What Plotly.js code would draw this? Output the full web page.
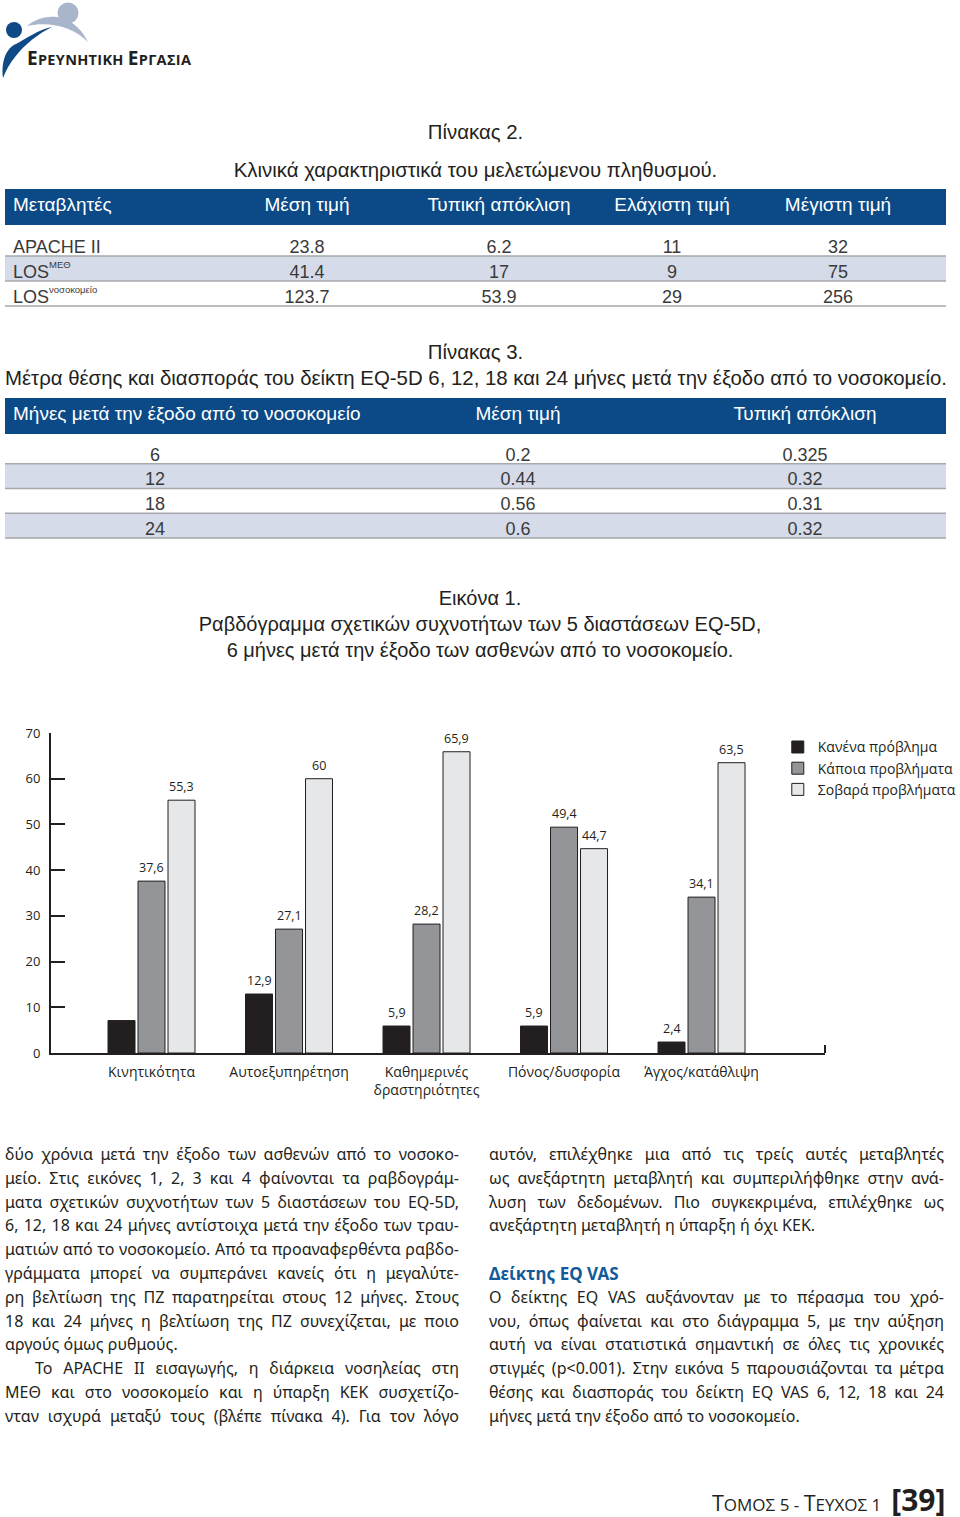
<!DOCTYPE html>
<html>
<head>
<meta charset="utf-8">
<script src="https://cdn.plot.ly/plotly-3.0.1.min.js"></script>
<style>
  body{margin:0;width:960px;height:1517px;position:relative;background:#fff;font-family:"Liberation Sans",Arial,sans-serif;color:#231f20;overflow:hidden}
  .ttl{position:absolute;left:5px;width:941px;text-align:center;font-size:20.4px;white-space:nowrap;line-height:24px}
  .col{position:absolute;font-family:"Noto Sans",sans-serif;font-size:16px;line-height:23.8px;top:1143px}
  .ln{white-space:nowrap;height:23.8px}
  .plt{position:absolute;left:0}
</style>
</head>
<body>
<!-- logo -->
<svg width="200" height="80" style="position:absolute;left:0;top:0">
  <circle cx="68" cy="13" r="10.5" fill="#a8b5cb"/>
  <path d="M27,26 C42,13 72,10 88,42 C73,27 50,21 27,26Z" fill="#a8b5cb"/>
  <circle cx="14" cy="30" r="8" fill="#0d4a86"/>
  <path d="M3,78 C1,62 6,48 16,44 C27,38 38,30 52,27 C38,34 25,44 15,57 C10,63 6,70 3,78Z" fill="#0d4a86"/>
</svg>
<div style="position:absolute;left:27px;top:45px;font-family:'Open Sans',sans-serif;font-weight:bold;color:#231f20;white-space:nowrap;letter-spacing:0.3px">
  <span style="font-size:19px">Ε</span><span style="font-size:14.5px">ΡΕΥΝΗΤΙΚΗ </span><span style="font-size:19px">Ε</span><span style="font-size:14.5px">ΡΓΑΣΙΑ</span>
</div>

<div class="ttl" style="top:120px">Πίνακας 2.</div>
<div class="ttl" style="top:158px">Κλινικά χαρακτηριστικά του μελετώμενου πληθυσμού.</div>
<div id="table2h" class="plt" style="top:185px;width:960px;height:45px"></div>
<div id="table2b" class="plt" style="top:215px;width:960px;height:100px"></div>
<div id="table2s" class="plt" style="top:212px;width:960px;height:100px"></div>

<div class="ttl" style="top:340px">Πίνακας 3.</div>
<div class="ttl" style="top:366px">Μέτρα θέσης και διασποράς του δείκτη EQ-5D 6, 12, 18 και 24 μήνες μετά την έξοδο από το νοσοκομείο.</div>
<div id="table3h" class="plt" style="top:395px;width:960px;height:45px"></div>
<div id="table3b" class="plt" style="top:423px;width:960px;height:125px"></div>

<div id="chart" class="plt" style="top:580px;width:960px;height:530px"></div>

<div class="col" style="left:5px;width:454px">
  <div class="ln j"><span>δύο χρόνια μετά την έξοδο των ασθενών από το νοσοκο-</span></div>
  <div class="ln j"><span>μείο. Στις εικόνες 1, 2, 3 και 4 φαίνονται τα ραβδογράμ-</span></div>
  <div class="ln j"><span>ματα σχετικών συχνοτήτων των 5 διαστάσεων του EQ-5D,</span></div>
  <div class="ln j"><span>6, 12, 18 και 24 μήνες αντίστοιχα μετά την έξοδο των τραυ-</span></div>
  <div class="ln j"><span>ματιών από το νοσοκομείο. Από τα προαναφερθέντα ραβδο-</span></div>
  <div class="ln j"><span>γράμματα μπορεί να συμπεράνει κανείς ότι η μεγαλύτε-</span></div>
  <div class="ln j"><span>ρη βελτίωση της ΠΖ παρατηρείται στους 12 μήνες. Στους</span></div>
  <div class="ln j"><span>18 και 24 μήνες η βελτίωση της ΠΖ συνεχίζεται, με ποιο</span></div>
  <div class="ln"><span>αργούς όμως ρυθμούς.</span></div>
  <div class="ln j" style="padding-left:30px"><span>Το APACHE II εισαγωγής, η διάρκεια νοσηλείας στη</span></div>
  <div class="ln j"><span>ΜΕΘ και στο νοσοκομείο και η ύπαρξη ΚΕΚ συσχετίζο-</span></div>
  <div class="ln j"><span>νταν ισχυρά μεταξύ τους (βλέπε πίνακα 4). Για τον λόγο</span></div>
</div>
<div class="col" style="left:489px;width:455px">
  <div class="ln j"><span>αυτόν, επιλέχθηκε μια από τις τρείς αυτές μεταβλητές</span></div>
  <div class="ln j"><span>ως ανεξάρτητη μεταβλητή και συμπεριλήφθηκε στην ανά-</span></div>
  <div class="ln j"><span>λυση των δεδομένων. Πιο συγκεκριμένα, επιλέχθηκε ως</span></div>
  <div class="ln"><span>ανεξάρτητη μεταβλητή η ύπαρξη ή όχι ΚΕΚ.</span></div>
  <div class="ln"></div>
  <div class="ln" style="font-weight:bold;color:#135a9a;font-size:17px"><span>Δείκτης EQ VAS</span></div>
  <div class="ln j"><span>Ο δείκτης EQ VAS αυξάνονταν με το πέρασμα του χρό-</span></div>
  <div class="ln j"><span>νου, όπως φαίνεται και στο διάγραμμα 5, με την αύξηση</span></div>
  <div class="ln j"><span>αυτή να είναι στατιστικά σημαντική σε όλες τις χρονικές</span></div>
  <div class="ln j"><span>στιγμές (p&lt;0.001). Στην εικόνα 5 παρουσιάζονται τα μέτρα</span></div>
  <div class="ln j"><span>θέσης και διασποράς του δείκτη EQ VAS 6, 12, 18 και 24</span></div>
  <div class="ln"><span>μήνες μετά την έξοδο από το νοσοκομείο.</span></div>
</div>

<div style="position:absolute;left:712px;top:1479px;font-family:'Open Sans',sans-serif;color:#231f20;white-space:nowrap">
  <span style="font-size:21.5px">Τ</span><span style="font-size:17px">ΟΜΟΣ 5 - </span><span style="font-size:21.5px">Τ</span><span style="font-size:17px">ΕΥΧΟΣ 1</span><span style="font-size:30px;font-weight:bold;margin-left:10px">[39]</span>
</div>

<script>
// ---------- Table 2 data ----------
const t2Headers = ['Μεταβλητές', 'Μέση τιμή', 'Τυπική απόκλιση', 'Ελάχιστη τιμή', 'Μέγιστη τιμή'];
const t2Variables = ['APACHE II', 'LOS', 'LOS'];
const t2VariableSup = ['', 'ΜΕΘ', 'νοσοκομείο'];
const t2Mean = [23.8, 41.4, 123.7];
const t2SD = [6.2, 17, 53.9];
const t2Min = [11, 9, 29];
const t2Max = [32, 75, 256];

// ---------- Table 3 data ----------
const t3Headers = ['Μήνες μετά την έξοδο από το νοσοκομείο', 'Μέση τιμή', 'Τυπική απόκλιση'];
const t3Months = [6, 12, 18, 24];
const t3Mean = [0.2, 0.44, 0.56, 0.6];
const t3SD = [0.325, 0.32, 0.31, 0.32];

// ---------- Figure 1 data ----------
const dimensions = ['Κινητικότητα', 'Αυτοεξυπηρέτηση', 'Καθημερινές<br>δραστηριότητες', 'Πόνος/δυσφορία', 'Άγχος/κατάθλιψη'];
const seriesNames = ['Κανένα πρόβλημα', 'Κάποια προβλήματα', 'Σοβαρά προβλήματα'];
const noProblems = [7.1, 12.9, 5.9, 5.9, 2.4];
const someProblems = [37.6, 27.1, 28.2, 49.4, 34.1];
const severeProblems = [55.3, 60, 65.9, 44.7, 63.5];
const noProblemsLabels = ['', '12,9', '5,9', '5,9', '2,4'];

// ---------- styling ----------
const INK = '#231f20';
const BLUE = '#0b4a86';
const ROWBLUE = '#d5dbe8';
const RULE = '#a7a9ac';
const TFONT = 'Liberation Sans, Arial, sans-serif';
const CFONT = 'Open Sans, sans-serif';
const cfg = {staticPlot: true, displayModeBar: false};
const str = a => a.map(v => String(v));
const rowFill = n => Array.from({length: n}, (_, i) => i % 2 ? ROWBLUE : '#ffffff');
const spacer = n => Array.from({length: n}, () => '');
const EMPTY_HDR = 16;
const L = 5, R = 946, W = 960;
const DX = [L / W, R / W];
const noMargin = {l: 0, r: 0, t: 0, b: 0};
const clearHeader = {values: [], fill: {color: 'rgba(0,0,0,0)'}, line: {width: 0, color: 'rgba(0,0,0,0)'}};

function tableHeader(id, H, top, vals, widths, align) {
  Plotly.newPlot(id, [{
    type: 'table',
    domain: {x: DX, y: [0, 1 - top / H]},
    columnwidth: widths,
    header: {values: vals, align: align, height: 36,
      fill: {color: BLUE}, line: {width: 0, color: BLUE},
      font: {family: TFONT, size: 19, color: '#ffffff'}},
    cells: {values: []}
  }], {width: W, height: H, margin: noMargin, paper_bgcolor: 'rgba(0,0,0,0)'}, cfg);
}

function tableBody(id, H, top, vals, widths, align, rowH, nRows) {
  const fills = rowFill(nRows);
  const shapes = [];
  for (let r = 0; r < nRows; r++) {
    const yp = 1 - (top + EMPTY_HDR + (r + 1) * rowH) / H;
    shapes.push({type: 'line', xref: 'paper', yref: 'paper', x0: DX[0], x1: DX[1], y0: yp, y1: yp,
      line: {color: RULE, width: 1.5}});
  }
  Plotly.newPlot(id, [{
    type: 'table',
    domain: {x: DX, y: [0, 1 - top / H]},
    columnwidth: widths,
    header: clearHeader,
    cells: {values: vals, align: align, height: rowH,
      fill: {color: vals.map(() => fills)},
      line: {width: 0, color: 'rgba(0,0,0,0)'},
      font: {family: TFONT, size: 18, color: '#3a3a3a'}}
  }], {width: W, height: H, margin: noMargin, paper_bgcolor: 'rgba(0,0,0,0)', shapes: shapes}, cfg);
}

// Table 2
tableHeader('table2h', 45, 4, t2Headers.concat(['']), [210, 184, 200, 146, 186, 15],
  ['left', 'center', 'center', 'center', 'center', 'center']);
tableBody('table2b', 100, 0, [t2Variables, str(t2Mean), str(t2SD), str(t2Min), str(t2Max)],
  [225, 154, 230, 116, 216], ['left', 'center', 'center', 'center', 'center'], 25, t2Variables.length);
// superscripts of the first column (small, raised, transparent overlay table)
Plotly.newPlot('table2s', [{
  type: 'table',
  domain: {x: [41 / W, 230 / W], y: [0, 1]},
  header: clearHeader,
  cells: {values: [t2VariableSup], align: 'left', height: 25,
    fill: {color: 'rgba(0,0,0,0)'}, line: {width: 0, color: 'rgba(0,0,0,0)'},
    font: {family: TFONT, size: 9.5, color: '#3a3a3a'}}
}], {width: W, height: 100, margin: noMargin, paper_bgcolor: 'rgba(0,0,0,0)'}, cfg);

// Table 3 (spacer columns place the centred columns)
tableHeader('table3h', 45, 3, [t3Headers[0], t3Headers[1], '', t3Headers[2]], [395, 236, 28, 282],
  ['left', 'center', 'center', 'center']);
tableBody('table3b', 125, 0, [str(t3Months), spacer(t3Months.length), str(t3Mean), str(t3SD)],
  [300, 67, 292, 282], ['center', 'center', 'center', 'center'], 24.75, t3Months.length);

// ---------- Figure 1 ----------
const colors = [INK, '#939598', '#e6e7e8'];
const seriesVals = [noProblems, someProblems, severeProblems];
const fmt = v => String(v).replace('.', ',');
const seriesLabels = [noProblemsLabels, someProblems.map(fmt), severeProblems.map(fmt)];

const traces = seriesVals.map((vals, si) => ({
  type: 'bar', name: seriesNames[si], x: dimensions, y: vals,
  marker: {color: colors[si], line: {color: INK, width: 1}},
  hoverinfo: 'skip'
}));

const SLOT = 30;
const annotations = [];
seriesVals.forEach((vals, si) => {
  dimensions.forEach((d, i) => {
    const t = seriesLabels[si][i];
    if (!t) return;
    annotations.push({x: d, y: vals[i], xref: 'x', yref: 'y', text: t, showarrow: false,
      yanchor: 'bottom', xanchor: 'center', xshift: (si - 1) * SLOT, yshift: 3,
      font: {family: CFONT, size: 12.5, color: INK}});
  });
});

const layout = {
  width: 960, height: 530,
  margin: {l: 51, r: 135, t: 153, b: 57, autoexpand: false},
  paper_bgcolor: '#ffffff', plot_bgcolor: '#ffffff',
  title: {
    text: 'Εικόνα 1.<br>Ραβδόγραμμα σχετικών συχνοτήτων των 5 διαστάσεων EQ-5D,<br>6 μήνες μετά την έξοδο των ασθενών από το νοσοκομείο.',
    x: 0.5, xref: 'container', xanchor: 'center', y: 0.952, yref: 'container', yanchor: 'top',
    font: {family: TFONT, size: 20, color: INK}
  },
  barmode: 'group', bargap: 0.3455, bargroupgap: 0.1,
  xaxis: {type: 'category', range: [-0.731, 4.898], showline: true, linecolor: INK, linewidth: 2,
    ticks: '', showgrid: false, zeroline: false, fixedrange: true, ticklabelstandoff: 5,
    tickfont: {family: CFONT, size: 14, color: INK}},
  yaxis: {range: [0, 70], tick0: 0, dtick: 10, ticks: 'inside', ticklen: 14, tickwidth: 2, tickcolor: INK,
    showline: true, linecolor: INK, linewidth: 2, showgrid: false, zeroline: false, fixedrange: true,
    ticklabelstandoff: 6, tickfont: {family: CFONT, size: 13, color: INK}},
  showlegend: true,
  legend: {x: 0.939, y: 1.005, xanchor: 'left', yanchor: 'top', traceorder: 'normal',
    bgcolor: 'rgba(0,0,0,0)', font: {family: CFONT, size: 14, color: INK}},
  annotations: annotations,
  shapes: [{type: 'line', xref: 'paper', yref: 'paper', x0: 1, x1: 1, y0: 0, y1: 0.025,
    line: {color: INK, width: 2}}]
};
Plotly.newPlot('chart', traces, layout, cfg);

// ---------- justify body text lines ----------
document.querySelectorAll('.ln.j').forEach(el => {
  const span = el.firstElementChild;
  const indent = parseFloat(el.style.paddingLeft) || 0;
  const target = el.clientWidth - indent;
  const w = span.getBoundingClientRect().width;
  const spaces = (span.textContent.match(/ /g) || []).length;
  if (spaces) span.style.wordSpacing = ((target - w) / spaces) + 'px';
});
</script>
</body>
</html>
